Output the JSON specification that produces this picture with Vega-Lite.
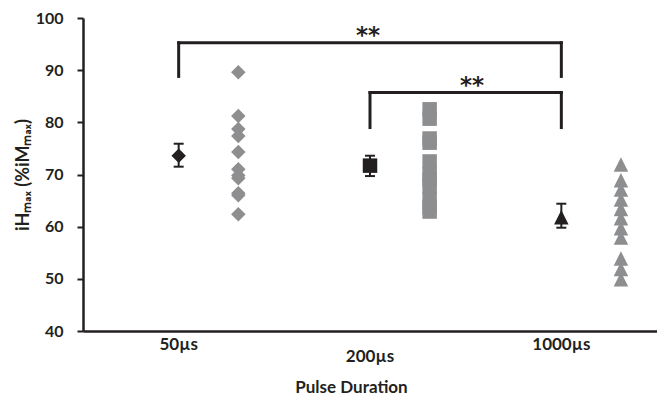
{
  "$schema": "https://vega.github.io/schema/vega-lite/v6.json",
  "width": 574,
  "height": 313,
  "autosize": {"type": "none"},
  "padding": {"left": 83, "top": 18, "right": 0, "bottom": 69},
  "background": "white",
  "config": {
    "view": {"stroke": null},
    "font": "Lato",
    "axis": {
      "domainColor": "#231f20",
      "domainWidth": 2.5,
      "tickColor": "#231f20",
      "labelColor": "#231f20",
      "titleColor": "#231f20",
      "labelFont": "Lato",
      "titleFont": "Lato",
      "labelFontWeight": "bold",
      "titleFontWeight": "bold",
      "labelFontSize": 16,
      "titleFontSize": 17,
      "grid": false
    },
    "axisX": {"ticks": false, "labelAngle": 0, "labelFontSize": 17, "titlePadding": 15, "titleX": 268},
    "axisY": {"tickSize": 6, "tickWidth": 2, "labelPadding": 14, "titlePadding": 3, "titleFontSize": 18}
  },
  "datasets": {
    "individual": [
      {"duration": "50µs", "value": 89.6},
      {"duration": "50µs", "value": 81.2},
      {"duration": "50µs", "value": 78.7},
      {"duration": "50µs", "value": 77.4},
      {"duration": "50µs", "value": 74.3},
      {"duration": "50µs", "value": 71.0},
      {"duration": "50µs", "value": 69.8},
      {"duration": "50µs", "value": 69.3},
      {"duration": "50µs", "value": 66.4},
      {"duration": "50µs", "value": 66.0},
      {"duration": "50µs", "value": 62.4},
      {"duration": "200µs", "value": 82.5},
      {"duration": "200µs", "value": 80.7},
      {"duration": "200µs", "value": 76.9},
      {"duration": "200µs", "value": 76.1},
      {"duration": "200µs", "value": 72.5},
      {"duration": "200µs", "value": 70.1},
      {"duration": "200µs", "value": 69.0},
      {"duration": "200µs", "value": 67.7},
      {"duration": "200µs", "value": 65.3},
      {"duration": "200µs", "value": 63.8},
      {"duration": "200µs", "value": 62.9},
      {"duration": "1000µs", "value": 71.9},
      {"duration": "1000µs", "value": 68.9},
      {"duration": "1000µs", "value": 67.1},
      {"duration": "1000µs", "value": 65.2},
      {"duration": "1000µs", "value": 63.4},
      {"duration": "1000µs", "value": 61.6},
      {"duration": "1000µs", "value": 59.7},
      {"duration": "1000µs", "value": 57.9},
      {"duration": "1000µs", "value": 53.9},
      {"duration": "1000µs", "value": 51.9},
      {"duration": "1000µs", "value": 49.9}
    ],
    "means": [
      {"duration": "50µs", "mean": 73.6, "lo": 71.5, "hi": 75.9},
      {"duration": "200µs", "mean": 71.7, "lo": 69.7, "hi": 73.6},
      {"duration": "1000µs", "mean": 61.8, "lo": 59.8, "hi": 64.4}
    ],
    "brackets": [
      {"from": "50µs", "to": "1000µs", "top": 95.25, "bottom": 88.8, "label": "**"},
      {"from": "200µs", "to": "1000µs", "top": 85.7, "bottom": 79.0, "label": "**"}
    ]
  },
  "layer": [
    {
      "data": {"name": "brackets"},
      "mark": {"type": "rule", "color": "#231f20", "strokeWidth": 3, "strokeCap": "square"},
      "encoding": {
        "x": {
          "field": "from", "type": "nominal", "title": "Pulse Duration", "bandPosition": 0.5,
          "scale": {"type": "band", "domain": ["50µs", "200µs", "1000µs"], "paddingInner": 0, "paddingOuter": 0},
          "axis": {"labelPadding": {"condition": {"test": "datum.value === '200µs'", "value": 17}, "value": 5}}
        },
        "x2": {"field": "to"},
        "y": {
          "field": "top", "type": "quantitative", "title": "iHₘₐₓ (%iMₘₐₓ)",
          "scale": {"domain": [40, 100], "nice": false, "zero": false},
          "axis": {"values": [40, 50, 60, 70, 80, 90, 100]}
        }
      }
    },
    {
      "data": {"name": "brackets"},
      "mark": {"type": "rule", "color": "#231f20", "strokeWidth": 3, "strokeCap": "square"},
      "encoding": {
        "x": {"field": "from", "type": "nominal", "title": "Pulse Duration", "bandPosition": 0.5},
        "y": {"field": "top", "type": "quantitative", "title": "iHₘₐₓ (%iMₘₐₓ)"},
        "y2": {"field": "bottom"}
      }
    },
    {
      "data": {"name": "brackets"},
      "mark": {"type": "rule", "color": "#231f20", "strokeWidth": 3, "strokeCap": "square"},
      "encoding": {
        "x": {"field": "to", "type": "nominal", "title": "Pulse Duration", "bandPosition": 0.5},
        "y": {"field": "top", "type": "quantitative", "title": "iHₘₐₓ (%iMₘₐₓ)"},
        "y2": {"field": "bottom"}
      }
    },
    {
      "data": {"name": "brackets"},
      "transform": [{"filter": "datum.from === '50µs'"}],
      "mark": {"type": "text", "font": "DejaVu Sans", "fontWeight": "bold", "fontSize": 23, "color": "#231f20", "baseline": "alphabetic", "dx": -2, "dy": 0},
      "encoding": {
        "x": {"datum": "200µs", "type": "nominal", "title": "Pulse Duration"},
        "y": {"field": "top", "type": "quantitative", "title": "iHₘₐₓ (%iMₘₐₓ)"},
        "text": {"field": "label"}
      }
    },
    {
      "data": {"name": "brackets"},
      "transform": [{"filter": "datum.from === '200µs'"}],
      "mark": {"type": "text", "font": "DejaVu Sans", "fontWeight": "bold", "fontSize": 23, "color": "#231f20", "baseline": "alphabetic", "dx": 102, "dy": 0},
      "encoding": {
        "x": {"field": "from", "type": "nominal", "title": "Pulse Duration"},
        "y": {"field": "top", "type": "quantitative", "title": "iHₘₐₓ (%iMₘₐₓ)"},
        "text": {"field": "label"}
      }
    },
    {
      "data": {"name": "individual"},
      "mark": {"type": "point", "filled": true, "opacity": 1, "color": "#8d8e90", "size": 210},
      "encoding": {
        "x": {"field": "duration", "type": "nominal", "title": "Pulse Duration"},
        "xOffset": {
          "datum": "individual", "type": "nominal",
          "scale": {"type": "point", "domain": ["mean", "individual"], "padding": 1.1494, "align": 0.7175}
        },
        "y": {"field": "value", "type": "quantitative", "title": "iHₘₐₓ (%iMₘₐₓ)"},
        "shape": {
          "field": "duration", "type": "nominal", "legend": null,
          "scale": {"domain": ["50µs", "200µs", "1000µs"], "range": ["diamond", "square", "M0,-1L1,1L-1,1Z"]}
        }
      }
    },
    {
      "data": {"name": "means"},
      "mark": {"type": "rule", "color": "#231f20", "strokeWidth": 2},
      "encoding": {
        "x": {"field": "duration", "type": "nominal", "title": "Pulse Duration", "bandPosition": 0.5},
        "y": {"field": "lo", "type": "quantitative", "title": "iHₘₐₓ (%iMₘₐₓ)"},
        "y2": {"field": "hi"}
      }
    },
    {
      "data": {"name": "means"},
      "mark": {"type": "tick", "color": "#231f20", "size": 10, "thickness": 2, "opacity": 1},
      "encoding": {
        "x": {"field": "duration", "type": "nominal", "title": "Pulse Duration"},
        "y": {"field": "lo", "type": "quantitative", "title": "iHₘₐₓ (%iMₘₐₓ)"}
      }
    },
    {
      "data": {"name": "means"},
      "mark": {"type": "tick", "color": "#231f20", "size": 10, "thickness": 2, "opacity": 1},
      "encoding": {
        "x": {"field": "duration", "type": "nominal", "title": "Pulse Duration"},
        "y": {"field": "hi", "type": "quantitative", "title": "iHₘₐₓ (%iMₘₐₓ)"}
      }
    },
    {
      "data": {"name": "means"},
      "mark": {"type": "point", "filled": true, "opacity": 1, "color": "#231f20", "size": 210},
      "encoding": {
        "x": {"field": "duration", "type": "nominal", "title": "Pulse Duration"},
        "y": {"field": "mean", "type": "quantitative", "title": "iHₘₐₓ (%iMₘₐₓ)"},
        "shape": {"field": "duration", "type": "nominal", "legend": null}
      }
    }
  ]
}
